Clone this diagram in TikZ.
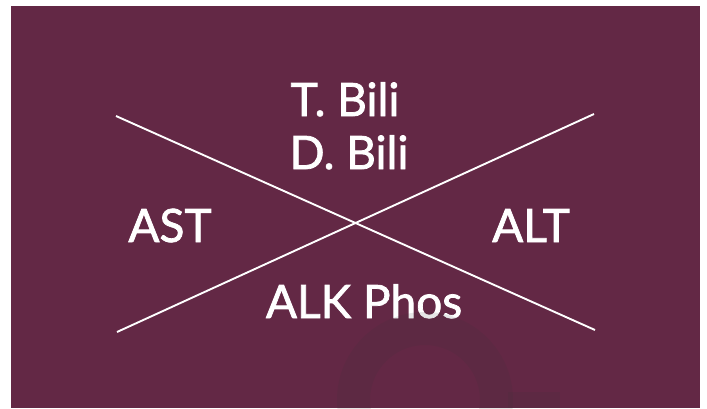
\documentclass[tikz,border=0pt]{standalone}
\usepackage{fontspec}
\setmainfont{Lato}
\newfontfamily\labfont[FakeBold=1.6]{Lato}
\usepackage{tikz}
\definecolor{plum}{RGB}{99,40,69}
\definecolor{wmgrey}{RGB}{53,53,53}
\tikzset{
  lab/.style={text=white, anchor=base, inner sep=0pt, font=\labfont\fontsize{46}{56}\selectfont},
  cross/.style={white, line width=1.9pt}
}

\begin{document}
\begin{tikzpicture}[x=1pt, y=-1pt]
            \useasboundingbox (0,0) rectangle (707,408);
            \fill[plum] (11,6) rectangle (700,408);

            \node[lab] (tbili) at (345,116) {T. Bili};
            \node[lab] (dbili) at (349,169) {D. Bili};
            \node[lab] (ast) at (170,242) {AST};
            \node[lab] (alt) at (531,242) {ALT};
            \node[lab] (alk) at (364,318) {ALK Phos};

            \coordinate (ul) at (116,116);
            \coordinate (ur) at (594,114);
            \coordinate (ll) at (117,332);
            \coordinate (lr) at (595,330);
            \draw[cross] (ul) -- (lr);
            \draw[cross] (ll) -- (ur);

            % faint watermark
            \fill[wmgrey, fill opacity=0.12, even odd rule] (425,400) circle (88) (425,400) circle (55);
            \fill[wmgrey, fill opacity=0.12] (508,392) rectangle (560,408);
        \end{tikzpicture}
\end{document}
